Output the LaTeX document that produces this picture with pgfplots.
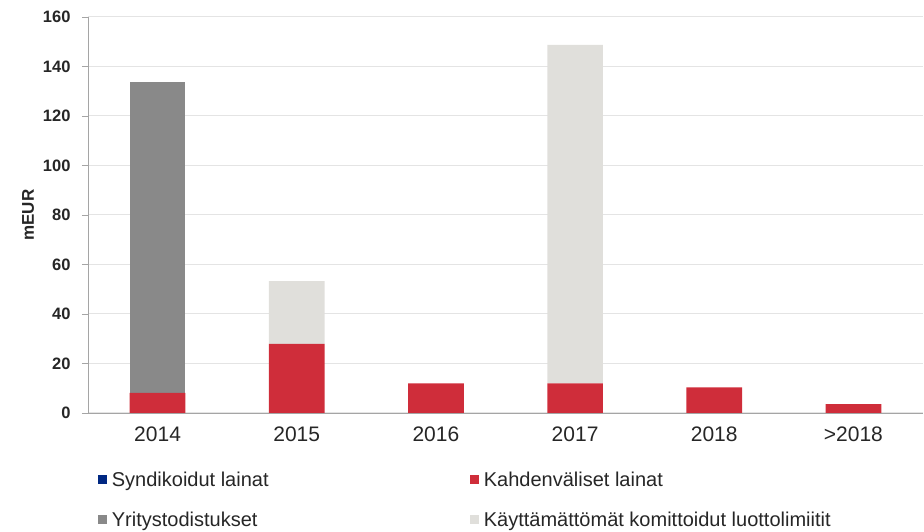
\documentclass[border=0pt]{standalone}
\usepackage{pgfplots}
\pgfplotsset{compat=1.18}
\usepackage{fontspec}
\setmainfont{Liberation Sans}
\definecolor{synd}{RGB}{0,40,130}
\definecolor{kahd}{RGB}{207,45,58}
\definecolor{yrit}{RGB}{137,137,137}
\definecolor{kayt}{RGB}{224,223,219}
\definecolor{gridc}{RGB}{228,228,228}
\definecolor{axc}{RGB}{165,165,165}
\definecolor{txt}{RGB}{38,38,38}

\begin{document}
\begin{tikzpicture}
\useasboundingbox (0,0) rectangle (924pt,532pt);
\begin{axis}[
  at={(88pt,119pt)}, anchor=south west,
  scale only axis, width=835pt, height=396pt,
  ybar stacked, bar width=0.4,
  xmin=-0.5, xmax=5.5, ymin=0, ymax=160,
  axis x line*=bottom, axis y line*=left,
  axis line style={axc, line width=0.8pt},
  xtick={0,1,2,3,4,5},
  xticklabels={2014,2015,2016,2017,2018,>2018},
  x tick style={draw=none},
  extra x ticks={-0.5,0.5,1.5,2.5,3.5,4.5,5.5},
  extra x tick labels={},
  extra x tick style={major tick length=6pt, tick style={axc, line width=0.8pt}},
  ytick={0,20,...,160},
  y tick style={axc, line width=0.8pt},
  major tick length=6pt,
  tick align=outside,
  ymajorgrids, grid style={gridc, line width=1pt},
  x tick label style={font=\fontsize{21}{24}\selectfont, text=txt, yshift=-4pt},
  y tick label style={font=\fontsize{16.5}{20}\selectfont\bfseries, text=txt, xshift=-8pt},
  /pgf/number format/assume math mode=true,
  ylabel={\bfseries mEUR},
  ylabel style={font=\fontsize{17}{20}\selectfont, text=txt, yshift=2pt},
  legend columns=2,
  legend cell align=left,
  legend style={draw=none, at={(rel axis cs:0.008,-0.138)}, anchor=north west,
    font=\fontsize{20}{24}\selectfont, text=txt, row sep=20pt,
    /tikz/every odd column/.append style={column sep=3pt}},
  legend image code/.code={\fill[#1] (0pt,-4.5pt) rectangle (9pt,4.5pt);},
]
\addplot[fill=synd, draw=none] coordinates {(0,0) (1,0) (2,0) (3,0) (4,0) (5,0)};
\addlegendentry{\makebox[356pt][l]{Syndikoidut lainat}}
\addplot[fill=kahd, draw=none] coordinates {(0,8.1) (1,27.9) (2,12.0) (3,12.0) (4,10.4) (5,3.6)};
\addlegendentry{Kahdenväliset lainat}
\addplot[fill=yrit, draw=none] coordinates {(0,125.5) (1,0) (2,0) (3,0) (4,0) (5,0)};
\addlegendentry{\makebox[356pt][l]{Yritystodistukset}}
\addplot[fill=kayt, draw=none] coordinates {(0,0) (1,25.4) (2,0) (3,136.7) (4,0) (5,0)};
\addlegendentry{Käyttämättömät komittoidut luottolimiitit}
\end{axis}
\end{tikzpicture}
\end{document}
